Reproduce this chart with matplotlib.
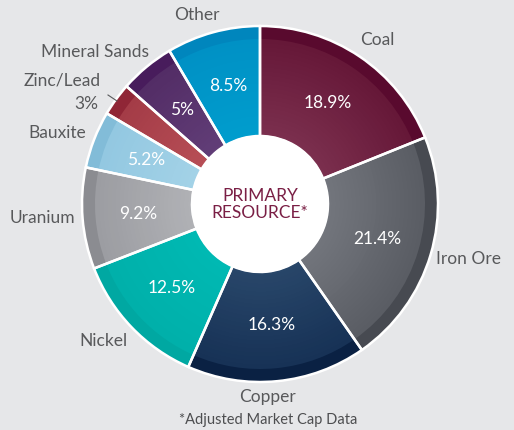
import numpy as np
import matplotlib.pyplot as plt
from matplotlib.colors import to_rgb

plt.rcParams['font.family'] = ['Lato', 'DejaVu Sans']

# data
resources = ['Coal', 'Iron Ore', 'Copper', 'Nickel', 'Uranium',
             'Bauxite', 'Zinc/Lead', 'Mineral Sands', 'Other']
shares = [18.9, 21.4, 16.3, 12.5, 9.2, 5.2, 3.0, 5.0, 8.5]
pct_labels = ['18.9%', '21.4%', '16.3%', '12.5%', '9.2%', '5.2%', '', '5%', '8.5%']

# colours: outer band, shade near outer band, shade near centre
outer_cols = ['#590a2e', '#474a51', '#0a2143', '#00a8a2', '#8b8c91',
              '#82bcd8', '#902636', '#481c5c', '#0086bd']
mid_cols = ['#661838', '#5a5d64', '#173256', '#00b0aa', '#9c9da2',
            '#93c8e1', '#a43c47', '#532d66', '#0091c5']
inner_cols = ['#7b2f4e', '#72757c', '#284669', '#00b9b3', '#b0b1b5',
              '#a3d2e7', '#b74e56', '#613d77', '#009dcd']

bg = '#e6e7e9'
label_col = '#58595b'

fig = plt.figure(figsize=(5.14, 4.3), dpi=100, facecolor=bg)
ax = fig.add_axes([0, 0, 1, 1])

cx, cy = 260, 430 - 204
R, r_band, r_in = 178, 165, 68

common = dict(startangle=90, counterclock=False, center=(cx, cy), frame=True)
ax.pie(shares, colors=outer_cols, radius=R, wedgeprops=dict(width=R - r_in), **common)

# soft shading inside the band, darker outwards
n = 24
for k in range(n):
    t = k / (n - 1)
    rad = r_band - k * (r_band - r_in) / n
    cols = [tuple((1 - t) * np.array(to_rgb(m)) + t * np.array(to_rgb(i)))
            for m, i in zip(mid_cols, inner_cols)]
    ax.pie(shares, colors=cols, radius=rad,
           wedgeprops=dict(width=rad - r_in, linewidth=0), **common)

# white edges + percentage labels
it = iter(pct_labels)
ax.pie(shares, colors=['none'] * len(shares), radius=R,
       wedgeprops=dict(width=R - r_in, edgecolor='white', linewidth=1.8),
       autopct=lambda p: next(it), pctdistance=0.685,
       textprops=dict(color='white', fontsize=12.5), **common)
ax.set_xlim(0, 514)
ax.set_ylim(0, 430)
ax.set_aspect('equal')
ax.axis('off')

# white centre
ax.add_patch(plt.Circle((cx, cy), r_in, color='white', zorder=5))
ax.text(cx, cy + 8, 'PRIMARY', ha='center', va='center', color='#7a1f45',
        fontsize=12.5, zorder=6)
ax.text(cx, cy - 9, 'RESOURCE*', ha='center', va='center', color='#7a1f45',
        fontsize=12.5, zorder=6)

# outside labels
outside = {
    'Coal': (377, 40), 'Iron Ore': (468, 259), 'Copper': (268, 397),
    'Nickel': (103, 341), 'Uranium': (42, 218), 'Bauxite': (57, 133),
    'Zinc/Lead': (62, 81), 'Mineral Sands': (95, 52), 'Other': (197, 15),
}
for name, (x, y) in outside.items():
    ax.text(x, 430 - y, name, ha='center', va='center', color=label_col, fontsize=12.5)
ax.text(86, 430 - 104, '3%', ha='center', va='center', color=label_col, fontsize=12.5)
ax.plot([108, 117], [430 - 95, 430 - 101], color=label_col, lw=0.8)

ax.text(268, 430 - 420, '*Adjusted Market Cap Data', ha='center', va='center',
        color='#4d4e50', fontsize=10.5)

fig.savefig('out.png', dpi=100, facecolor=bg)
